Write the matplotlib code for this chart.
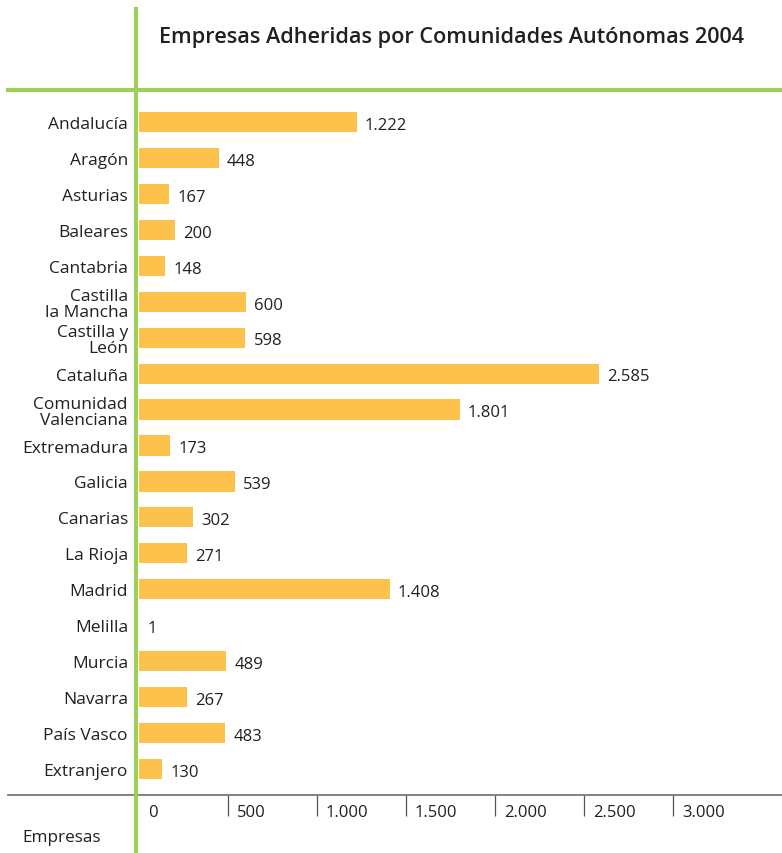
import matplotlib
matplotlib.use("Agg")
import matplotlib.pyplot as plt
from matplotlib.lines import Line2D
from matplotlib.transforms import blended_transform_factory, offset_copy

plt.rcParams['font.family'] = ['Open Sans', 'DejaVu Sans']

# datos
comunidades = ["Andalucía", "Aragón", "Asturias", "Baleares", "Cantabria",
               "Castilla\nla Mancha", "Castilla y\nLeón", "Cataluña",
               "Comunidad\nValenciana", "Extremadura", "Galicia", "Canarias",
               "La Rioja", "Madrid", "Melilla", "Murcia", "Navarra",
               "País Vasco", "Extranjero"]
empresas = [1222, 448, 167, 200, 148, 600, 598, 2585, 1801, 173, 539, 302,
            271, 1408, 1, 489, 267, 483, 130]
ticks = [0, 500, 1000, 1500, 2000, 2500, 3000]
tick_labels = ["0", "500", "1.000", "1.500", "2.000", "2.500", "3.000"]

W, H = 782, 854
verde = '#9ecf5a'
amarillo = '#fdc24b'
texto = '#231f20'

fig = plt.figure(figsize=(W / 100, H / 100), dpi=100)

def px(x0, y0, x1, y1):
    return [x0 / W, 1 - y1 / H, (x1 - x0) / W, (y1 - y0) / H]

ax = fig.add_axes(px(139, 91, 782, 796))
px_por_unidad = 0.178
ax.set_xlim(0, (782 - 139) / px_por_unidad)
espacio = 35.94
ax.set_ylim(18 + 26 / espacio, -32 / espacio)

pos = list(range(len(comunidades)))
ax.barh(pos, empresas, height=0.56, color=amarillo, edgecolor='none')

for i, v in enumerate(empresas):
    etiqueta = f"{v:,}".replace(",", ".")
    ax.annotate(etiqueta, (v, i), xytext=(6, -2), textcoords='offset points',
                ha='left', va='center', fontsize=12, color=texto)

ax.set_yticks(pos)
ax.set_yticklabels(comunidades, fontsize=12.5, color=texto, linespacing=1.05)
ax.tick_params(axis='y', length=0, pad=8)

# el 0 queda tapado por la linea verde
ax.set_xticks(ticks[1:])
ax.set_xticklabels([])
ax.tick_params(axis='x', direction='out', length=15, width=0.9, color='#555555')
trans = offset_copy(blended_transform_factory(ax.transData, ax.transAxes),
                    fig=fig, x=6.5, y=-12.5, units='points')
for t, lab in zip(ticks, tick_labels):
    ax.text(t, 0, lab, transform=trans, ha='left', va='center',
            fontsize=12, color=texto)

for s in ax.spines.values():
    s.set_visible(False)
ax.patch.set_alpha(0)

# lineas decorativas
fig.add_artist(Line2D([8 / W, 1], [1 - 796 / H] * 2, color='#777777', lw=1.3))
fig.add_artist(Line2D([8 / W, 1], [1 - 91 / H] * 2, color=verde, lw=3))
fig.add_artist(Line2D([136 / W] * 2, [0, 1 - 10 / H], color=verde, lw=3))

fig.text(159 / W, 1 - 38 / H, "Empresas Adheridas por Comunidades Autónomas 2004",
         ha='left', va='center', fontsize=15.6, fontweight='semibold', color=texto)
fig.text(22 / W, 1 - 838 / H, "Empresas", ha='left', va='center',
         fontsize=12.3, color=texto)

fig.savefig("out.png", dpi=100, facecolor='white')
